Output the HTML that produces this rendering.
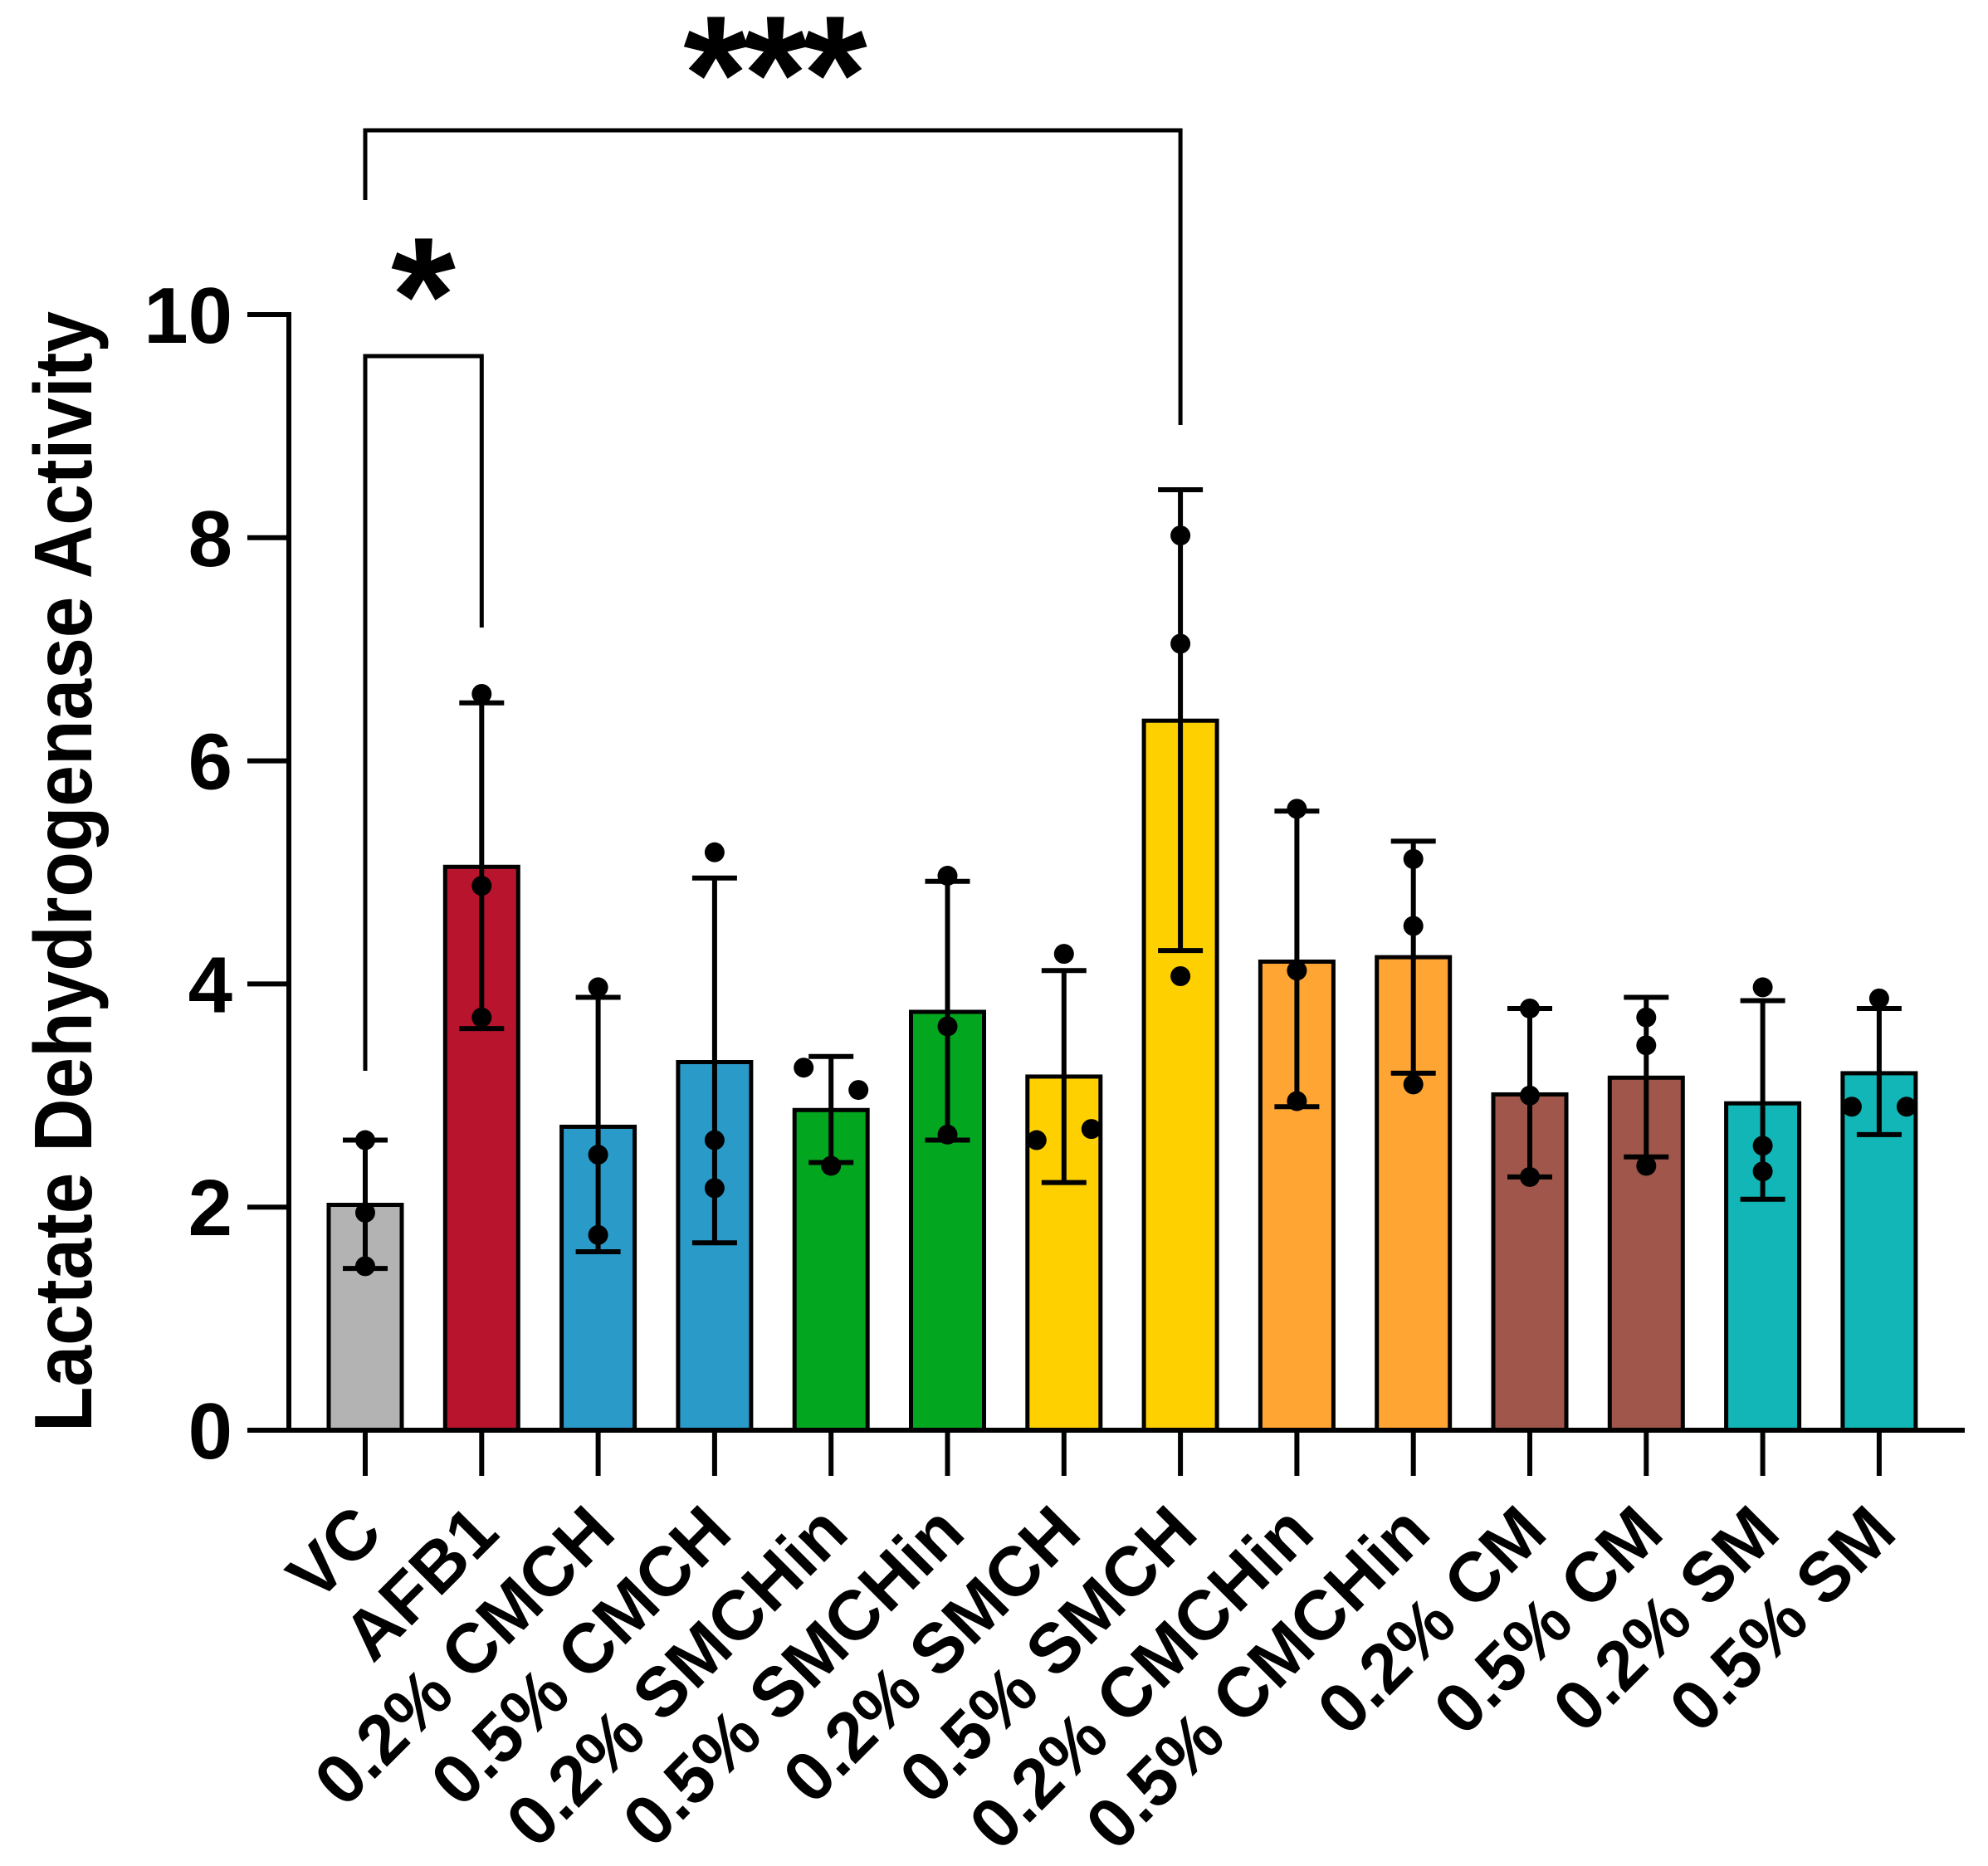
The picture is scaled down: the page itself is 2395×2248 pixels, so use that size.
<!DOCTYPE html>
<html><head><meta charset="utf-8"><style>
html,body{margin:0;padding:0;background:#fff;}
svg{display:block;font-family:"Liberation Sans",Arial,sans-serif;font-weight:bold;}
</style></head><body>
<svg id="chart" width="2395" height="2248" viewBox="0 0 2395 2248" xmlns="http://www.w3.org/2000/svg">
<g id="plot"></g>
</svg>
<script>
const categories = ["VC","AFB1","0.2% CMCH","0.5% CMCH","0.2% SMCHin","0.5% SMCHin","0.2% SMCH","0.5% SMCH","0.2% CMCHin","0.5% CMCHin","0.2% CM","0.5% CM","0.2% SM","0.5% SM"];
const means = [2.02,5.05,2.72,3.3,2.87,3.75,3.17,6.36,4.2,4.24,3.01,3.16,2.93,3.2];
const errLow = [1.45,3.6,1.6,1.68,2.4,2.6,2.22,4.3,2.9,3.2,2.27,2.45,2.07,2.65];
const errHigh = [2.6,6.52,3.88,4.95,3.35,4.92,4.12,8.43,5.55,5.28,3.78,3.88,3.85,3.78];
const pointsA = [2.6,6.6,3.97,5.18,3.25,4.97,4.27,8.02,5.57,5.12,3.78,3.7,3.97,3.87];
const pointsB = [1.95,4.88,2.47,2.6,3.05,3.62,2.6,7.05,4.12,4.52,3.0,3.45,2.55,2.9];
const pointsC = [1.47,3.7,1.75,2.17,2.37,2.65,2.7,4.07,2.95,3.1,2.27,2.37,2.32,2.9];
const jitterA = [0,0,0,0,-1,0,0,0,0,0,0,0,0,0];
const jitterB = [0,0,0,0,1,0,-1,0,0,0,0,0,0,-1];
const jitterC = [0,0,0,0,0,0,1,0,0,0,0,0,0,1];
const colors = ["#b3b3b3","#b8142e","#2a9ac9","#2a9ac9","#03a61f","#03a61f","#ffd000","#ffd000","#ffa533","#ffa533","#a0564a","#a0564a","#12b6b6","#12b6b6"];
const yTicks = [0,2,4,6,8,10];

const NS="http://www.w3.org/2000/svg";
const g=document.getElementById('plot');
const y0=1723, yTop=379, x0=440, step=140.3, bw=88;
function yS(v){return y0-(y0-yTop)*v/10;}
function xS(i){return x0+step*i;}
function mk(tag,attrs,parent){const e=document.createElementNS(NS,tag);for(const k in attrs)e.setAttribute(k,attrs[k]);(parent||g).appendChild(e);return e;}

categories.forEach((c,i)=>{
  const b=mk('rect',{x:xS(i)-bw/2,y:yS(means[i]),width:bw,height:y0-yS(means[i]),fill:colors[i],stroke:'#000','stroke-width':5});
  
  
});
categories.forEach((c,i)=>{
  const x=xS(i);
  const e=mk('path',{d:`M${x},${yS(errLow[i])}V${yS(errHigh[i])}M${x-27},${yS(errHigh[i])}H${x+27}M${x-27},${yS(errLow[i])}H${x+27}`,stroke:'#000','stroke-width':6,fill:'none'});
  
  
});
categories.forEach((c,i)=>{
  const x=xS(i);
  const pts=[[x+33*jitterA[i],pointsA[i]],[x+33*jitterB[i],pointsB[i]],[x+33*jitterC[i],pointsC[i]]];
  pts.forEach(p=>{
    const d=mk('circle',{cx:p[0],cy:yS(p[1]),r:12,fill:'#000'});
    
    
  });
});
const ya=mk('path',{d:`M348,${yTop-3}V${y0}`,stroke:'#000','stroke-width':6,fill:'none'});


const xa=mk('path',{d:`M298,${y0}H2367`,stroke:'#000','stroke-width':6,fill:'none'});


yTicks.forEach(t=>{
  const l=mk('path',{d:`M298,${yS(t)}H348`,stroke:'#000','stroke-width':6});
  
  
  const tx=mk('text',{x:280,y:yS(t)+34,'text-anchor':'end','font-size':96});
  tx.textContent=t;
  
  
});
categories.forEach((c,i)=>{
  const x=xS(i);
  const l=mk('path',{d:`M${x},${y0}V1778`,stroke:'#000','stroke-width':6});
  
  
  const tx=mk('text',{x:x+24,y:1850,'text-anchor':'end','font-size':84,transform:`rotate(-45 ${x+24} 1850)`});
  tx.textContent=c;
  
  
});
const yl=mk('text',{x:0,y:0,'text-anchor':'middle','font-size':98,transform:'translate(110,1050) rotate(-90)',textLength:1350,lengthAdjust:'spacingAndGlyphs'});
yl.textContent='Lactate Dehydrogenase Activity';


const s1=mk('path',{d:`M${xS(0)},1290V429H${xS(1)}V756`,stroke:'#000','stroke-width':5,fill:'none'});


const t1=mk('text',{x:510,y:425,'text-anchor':'middle','font-size':200});
t1.textContent='*';


const s2=mk('path',{d:`M${xS(0)},241V157H${xS(7)}V512`,stroke:'#000','stroke-width':5,fill:'none'});


const t2=mk('text',{x:931,y:158,'text-anchor':'middle','font-size':200,'letter-spacing':'-6'});
t2.textContent='***';


</script>
</body></html>
